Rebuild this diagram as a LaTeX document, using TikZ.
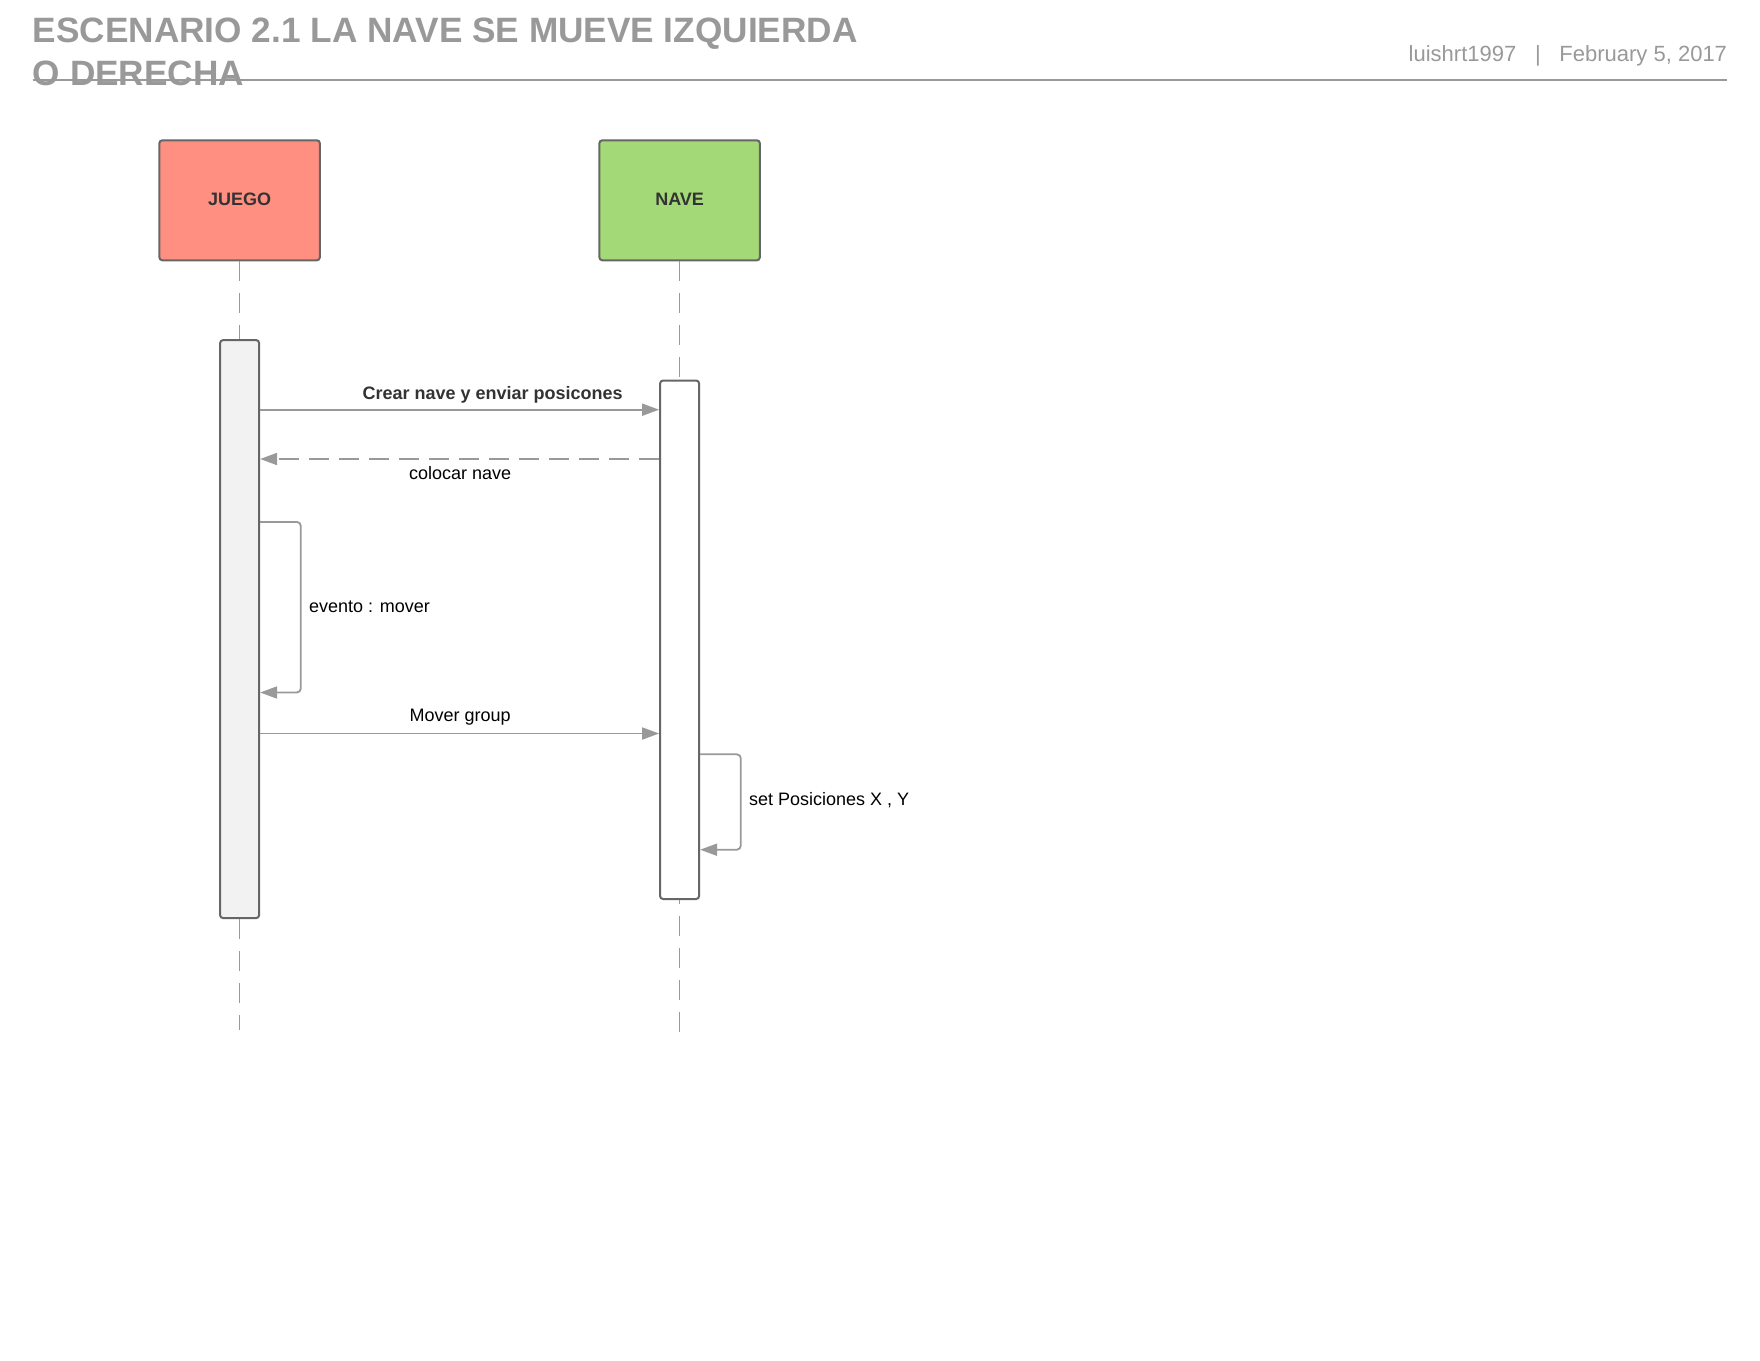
\documentclass[tikz,border=0pt]{standalone}
\usepackage{fontspec}
\setmainfont{Liberation Sans}
\usetikzlibrary{arrows.meta,positioning}
\definecolor{sqedge}{RGB}{102,102,102}
\definecolor{sqline}{RGB}{153,153,153}
\definecolor{sqjuego}{RGB}{255,143,128}
\definecolor{sqnave}{RGB}{163,217,119}
\definecolor{sqact}{RGB}{242,242,242}
\definecolor{sqtext}{RGB}{51,51,51}
\definecolor{sqhead}{RGB}{153,153,153}
\tikzset{
  actor/.style={
    draw=sqedge, line width=1pt, rounded corners=1.5pt,
    minimum width=80.25pt, minimum height=60pt, inner sep=0pt,
    font=\fontsize{9}{11}\selectfont\bfseries, text=sqtext
  },
  actbar/.style={
    draw=sqedge, line width=1pt, rounded corners=1.5pt,
    minimum width=19.5pt, inner sep=0pt
  },
  lifeline/.style={draw=sqline, line width=0.8pt, dash pattern=on 10pt off 6pt},
  msg/.style={-{Triangle[length=8.5pt,width=6pt]}, draw=sqline, line width=0.9pt},
  rmsg/.style={msg, dash pattern=on 10pt off 5pt},
  selfmsg/.style={msg, rounded corners=2pt},
  lbl/.style={font=\fontsize{9}{11}\selectfont, text=black, inner sep=0pt},
  blbl/.style={lbl, font=\fontsize{9}{11}\selectfont\bfseries, text=sqtext},
  headtitle/.style={
    font=\fontsize{17.6}{21.3}\selectfont\bfseries, text=sqhead,
    align=left, inner sep=0pt
  },
  headinfo/.style={font=\fontsize{11}{13}\selectfont, text=sqhead, inner sep=0pt}
}

\begin{document}
\begin{tikzpicture}[x=0.5pt, y=-0.5pt]
  \useasboundingbox[fill=white] (0,0) rectangle (1760,1360);

  % header
  \node[headtitle, anchor=base west] (title) at (32.5,85.3)
    {ESCENARIO 2.1 LA NAVE SE MUEVE IZQUIERDA\\O DERECHA};
  \node[headinfo, anchor=base east] (info) at (1727.4,61.7)
    {luishrt1997\hspace{0.85em}|\hspace{0.85em}February 5, 2017};
  \coordinate (rulel) at (32.5,79.7);
  \coordinate (ruler) at (1727.4,79.7);
  \draw[draw=sqline, line width=1pt] (rulel) -- (ruler);

  % actors and activation bars
  \node[actor, fill=sqjuego] (juego) at (239.6,200.3) {\raisebox{1pt}{JUEGO}};
  \node[actor, fill=sqnave] (nave) at (679.6,200.3) {\raisebox{1pt}{NAVE}};
  \node[actbar, fill=sqact, minimum height=289pt] (jbar) at (239.6,629.1) {};
  \node[actbar, fill=white, minimum height=259.25pt] (nbar) at (679.6,639.75) {};

  % lifelines
  \coordinate (jend) at (239.6,1030.4);
  \coordinate (nend) at (679.6,1039.4);
  \draw[lifeline] (juego.south) -- (jbar.north);
  \draw[lifeline] (nave.south) -- (nbar.north);
  \draw[lifeline] (jbar.south) -- (jend);
  \draw[lifeline, dash phase=8pt] (nbar.south) -- (nend);

  % messages
  \coordinate (m1) at (0,409.7);
  \coordinate (m2) at (0,459);
  \coordinate (m3) at (0,733.5);
  \draw[msg] (jbar.east |- m1) -- (nbar.west |- m1);
  \node[blbl] (m1lbl) at (492.7,394.8) {Crear nave y enviar posicones};
  \draw[rmsg] (nbar.west |- m2) -- (jbar.east |- m2);
  \node[lbl] (m2lbl) at (460.2,472.6) {colocar nave};
  \draw[msg] (jbar.east |- m3) -- (nbar.west |- m3);
  \node[lbl] (m3lbl) at (460.2,717.2) {Mover group};

  % self messages
  \coordinate (s1top) at (300.8,521.9);
  \coordinate (s1bot) at (300.8,692.5);
  \draw[selfmsg] (jbar.east |- s1top) -- (s1top) -- (s1bot) -- (jbar.east |- s1bot);
  \node[lbl, anchor=west] (s1lbl) at (308.7,606.4) {evento : mover};
  \coordinate (s2top) at (740.8,754.3);
  \coordinate (s2bot) at (740.8,849.7);
  \draw[selfmsg] (nbar.east |- s2top) -- (s2top) -- (s2bot) -- (nbar.east |- s2bot);
  \node[lbl, anchor=west] (s2lbl) at (748.6,800.6) {set Posiciones X , Y};
\end{tikzpicture}
\end{document}
